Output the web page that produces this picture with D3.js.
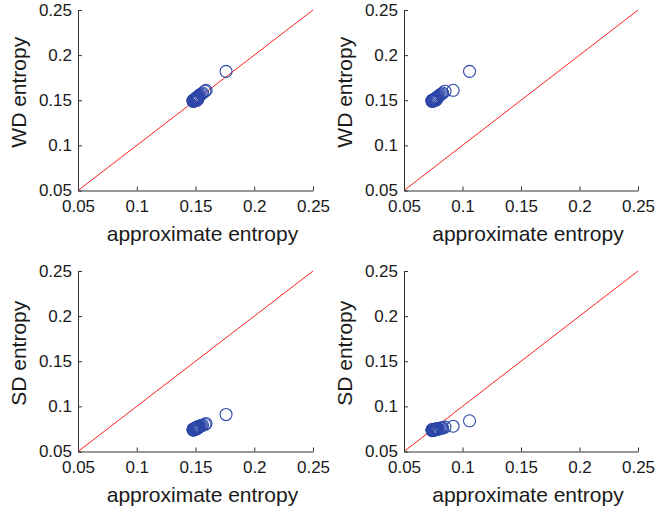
<!DOCTYPE html>
<html>
<head>
<meta charset="utf-8">
<script src="https://cdn.jsdelivr.net/npm/d3@7"></script>
<style>
  body { margin: 0; background: #fff; }
  svg { display: block; }
</style>
</head>
<body>
<div id="chart"></div>
<script>
// entropy values per record (left column x, right column x, WD, SD for each column)
const apEnLeft = [0.176, 0.159, 0.158, 0.156, 0.155, 0.154, 0.153, 0.153, 0.152, 0.152, 0.151, 0.151, 0.151, 0.150, 0.150,
                  0.150, 0.150, 0.149, 0.149, 0.149, 0.149, 0.149, 0.148, 0.148, 0.148, 0.148, 0.152, 0.151, 0.150, 0.149];
const apEnRight = [0.106, 0.092, 0.085, 0.083, 0.082, 0.081, 0.080, 0.079, 0.079, 0.078, 0.078, 0.077, 0.077, 0.077, 0.076,
                   0.076, 0.076, 0.075, 0.075, 0.075, 0.075, 0.075, 0.074, 0.074, 0.074, 0.074, 0.078, 0.077, 0.076, 0.075];
const wdEntropy = [0.182, 0.161, 0.160, 0.158, 0.157, 0.156, 0.155, 0.154, 0.154, 0.153, 0.153, 0.152, 0.152, 0.152, 0.151,
                   0.151, 0.151, 0.150, 0.150, 0.150, 0.150, 0.150, 0.149, 0.149, 0.149, 0.150, 0.151, 0.150, 0.151, 0.149];
const sdEntropyLeft = [0.091, 0.081, 0.080, 0.079, 0.079, 0.078, 0.078, 0.077, 0.077, 0.077, 0.077, 0.076, 0.076, 0.076, 0.076,
                       0.076, 0.075, 0.075, 0.075, 0.075, 0.075, 0.075, 0.075, 0.074, 0.074, 0.074, 0.076, 0.075, 0.075, 0.074];
const sdEntropyRight = [0.084, 0.078, 0.077, 0.076, 0.076, 0.076, 0.075, 0.075, 0.075, 0.075, 0.075, 0.075, 0.075, 0.075, 0.074,
                        0.074, 0.074, 0.074, 0.074, 0.074, 0.074, 0.074, 0.074, 0.074, 0.073, 0.074, 0.075, 0.074, 0.074, 0.074];
const tickValues = [0.05, 0.1, 0.15, 0.2, 0.25];
const axisDomain = [0.05, 0.25];

const panels = [
  { xs: apEnLeft, ys: wdEntropy, ylab: "WD entropy", left: 78, right: 313, top: 10, bottom: 190.5 },
  { xs: apEnRight, ys: wdEntropy, ylab: "WD entropy", left: 404, right: 638, top: 10, bottom: 190.5 },
  { xs: apEnLeft, ys: sdEntropyLeft, ylab: "SD entropy", left: 78, right: 313, top: 271, bottom: 451.5 },
  { xs: apEnRight, ys: sdEntropyRight, ylab: "SD entropy", left: 404, right: 638, top: 271, bottom: 451.5 }
];

const svg = d3.select("#chart").append("svg")
    .attr("width", 656)
    .attr("height", 510)
    .style("font-family", "'Liberation Sans', Arial, sans-serif");

const fmt = d => String(+d.toFixed(2));

panels.forEach(p => {
    const x = d3.scaleLinear().domain(axisDomain).range([p.left, p.right]);
    const y = d3.scaleLinear().domain(axisDomain).range([p.bottom, p.top]);
    const g = svg.append("g");

    // identity line
    g.append("line")
        .attr("x1", x(axisDomain[0])).attr("y1", y(axisDomain[0]))
        .attr("x2", x(axisDomain[1])).attr("y2", y(axisDomain[1]))
        .attr("stroke", "#ff2020")
        .attr("stroke-width", 1);

    // axes, ticks pointing in
    g.append("g")
        .attr("transform", `translate(0,${p.bottom})`)
        .call(d3.axisBottom(x).tickValues(tickValues).tickFormat(fmt).tickSizeInner(-4).tickSizeOuter(0).tickPadding(9))
        .call(a => a.selectAll("text").style("font-size", "17px").attr("fill", "#1a1a1a"))
        .call(a => a.selectAll("path, line").attr("stroke", "#333"));

    g.append("g")
        .attr("transform", `translate(${p.left},0)`)
        .call(d3.axisLeft(y).tickValues(tickValues).tickFormat(fmt).tickSizeInner(-4).tickSizeOuter(0).tickPadding(6))
        .call(a => a.selectAll("text").style("font-size", "17px").attr("fill", "#1a1a1a"))
        .call(a => a.selectAll("path, line").attr("stroke", "#333"));

    // points
    const pts = p.xs.map((v, i) => ({ x: v, y: p.ys[i] }));
    g.append("g")
        .selectAll("circle")
        .data(pts)
        .join("circle")
        .attr("cx", d => x(d.x))
        .attr("cy", d => y(d.y))
        .attr("r", 6)
        .attr("fill", "none")
        .attr("stroke", "#2d48a8")
        .attr("stroke-width", 1.1);

    // labels
    g.append("text")
        .attr("x", (p.left + p.right) / 2 + 7)
        .attr("y", p.bottom + 50)
        .attr("text-anchor", "middle")
        .style("font-size", "21px")
        .attr("fill", "#1a1a1a")
        .text("approximate entropy");

    g.append("text")
        .attr("transform", `translate(${p.left - 52},${(p.top + p.bottom) / 2 - 8}) rotate(-90)`)
        .attr("text-anchor", "middle")
        .style("font-size", "21px")
        .attr("fill", "#1a1a1a")
        .text(p.ylab);
});
</script>
</body>
</html>
